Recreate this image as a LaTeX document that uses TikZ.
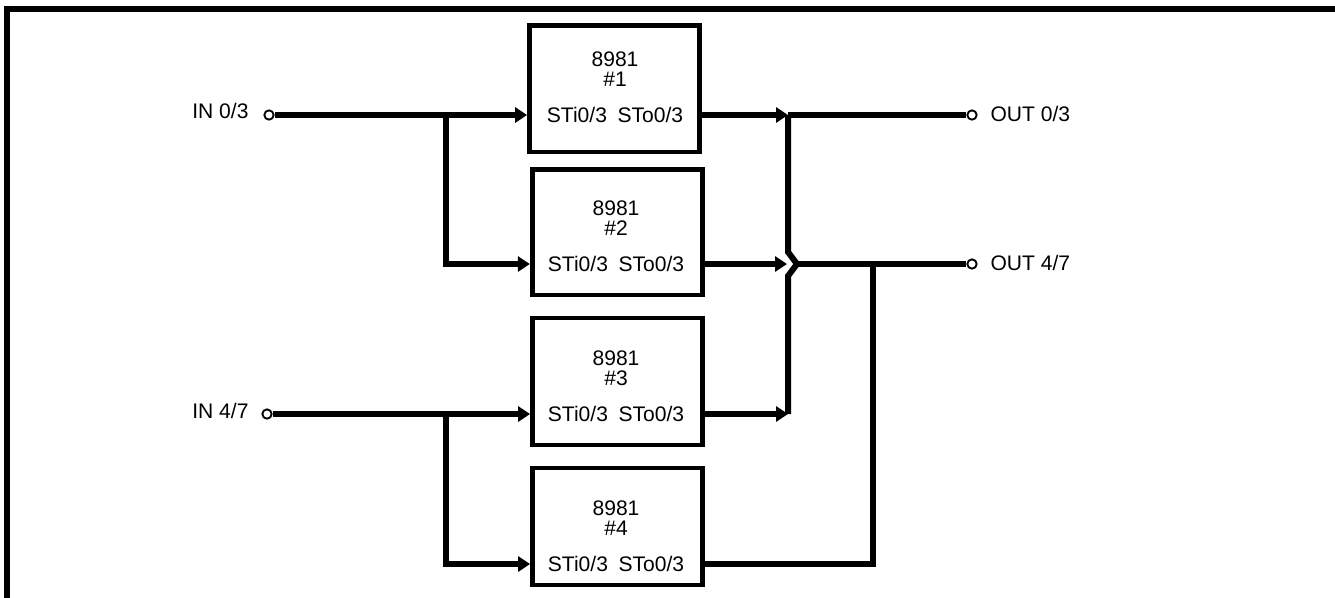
\documentclass[tikz,border=0pt]{standalone}
\usepackage{fontspec}
\setmainfont{Liberation Sans}
\usetikzlibrary{arrows.meta}

\tikzset{every picture/.style={line width=0.75pt}}
\tikzset{
  chip/.style={draw, line width=3.6pt, minimum width=127.5pt, inner sep=0pt},
  chiptext/.style={inner sep=0pt, font=\fontsize{15.8}{15}\selectfont, align=center},
  sig/.style={line width=4.5pt, line join=miter},
  sigarr/.style={sig, -{Triangle[length=9pt,width=11.25pt]}},
  term/.style={draw, circle, line width=1.4pt, fill=white, inner sep=0pt, minimum size=7pt},
  lbl/.style={inner sep=0pt, font=\fontsize{15.8}{15}\selectfont},
}

\begin{document}
\begin{tikzpicture}[x=0.75pt,y=0.75pt,yscale=-1,xscale=1]
\useasboundingbox (0,0) rectangle (1335,597);

%Straight Lines (frame)
\draw [line width=4.5pt] (1345,9) -- (7,9) -- (7,605) ;

%Shape: Rectangle
\node [chip, minimum height=94.9pt] (chip1) at (614.5,88.75) {};
%Shape: Rectangle
\node [chip, minimum height=94.1pt] (chip2) at (617.25,232.25) {};
%Shape: Rectangle
\node [chip, minimum height=95.25pt] (chip3) at (617.5,381.5) {};
%Shape: Rectangle
\node [chip, minimum height=87.75pt] (chip4) at (617.5,526.5) {};

% Text Node
\node [chiptext] (name1) at (615,69) {8981\\\#1};
\node [chiptext] (pins1) at (615,115) {STi0/3\hspace{0.5em}STo0/3};
% Text Node
\node [chiptext] (name2) at (616,218) {8981\\\#2};
\node [chiptext] (pins2) at (616,264) {STi0/3\hspace{0.5em}STo0/3};
% Text Node
\node [chiptext] (name3) at (616,368) {8981\\\#3};
\node [chiptext] (pins3) at (616,414) {STi0/3\hspace{0.5em}STo0/3};
% Text Node
\node [chiptext] (name4) at (616,518) {8981\\\#4};
\node [chiptext] (pins4) at (616,564) {STi0/3\hspace{0.5em}STo0/3};

%Shape: Circle
\node [term] (in1) at (269,115) {};
\node [term] (in2) at (267,414) {};
\node [term] (out1) at (972,115) {};
\node [term] (out2) at (972,264) {};

% Text Node
\node [lbl, anchor=east] (lin1) at (249,110.5) {IN 0/3};
\node [lbl, anchor=east] (lin2) at (249,410.5) {IN 4/7};
\node [lbl, anchor=west] (lout1) at (990,114) {OUT 0/3};
\node [lbl, anchor=west] (lout2) at (990,263) {OUT 4/7};

\coordinate (b1) at (445.5,115);
\coordinate (b2) at (445.5,414);
\coordinate (j1) at (788,115);
\coordinate (j2) at (787,264);
\coordinate (j3) at (788,414);
\coordinate (j4) at (873,264);
\coordinate (hopa) at (788,252);
\coordinate (hopb) at (797,264);
\coordinate (hopc) at (788,276);

%Straight Lines (inputs)
\draw [sigarr] (in1) -- (chip1.west |- pins1) ;
\draw [sigarr] (b1) |- (chip2.west |- pins2) ;
\draw [sigarr] (in2) -- (chip3.west |- pins3) ;
\draw [sigarr] (b2) |- (chip4.west |- pins4) ;

%Straight Lines (outputs)
\draw [sigarr] (chip1.east |- pins1) -- (j1) ;
\draw [sigarr] (chip2.east |- pins2) -- (j2) ;
\draw [sigarr] (chip3.east |- pins3) -- (j3) ;
\draw [sig] (j1) -- (out1) ;
\draw [sig] (hopb) -- (out2) ;
\draw [sig] (j1) -- (hopa) -- (hopb) -- (hopc) -- (j3) ;
\draw [sig] (chip4.east |- pins4) -| (j4) ;

\end{tikzpicture}
\end{document}
